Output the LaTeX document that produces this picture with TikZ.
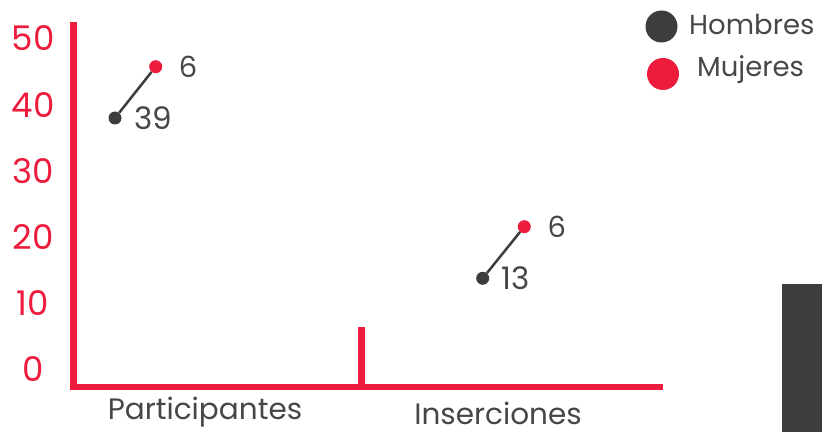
\documentclass[tikz,border=0pt]{standalone}
\usepackage{fontspec}
\setmainfont{Poppins}
\usetikzlibrary{positioning}
\definecolor{rojo}{HTML}{ED1B3C}
\definecolor{gris}{HTML}{3D3D3D}
\definecolor{texto}{HTML}{474747}

\begin{document}
\begin{tikzpicture}[x=1pt,y=1pt,
    eje/.style={draw=rojo,line width=6.5pt},
    valor/.style={text=rojo,font=\fontsize{34}{34}\selectfont},
    dato/.style={text=texto,font=\fontsize{31}{31}\selectfont},
    datomujer/.style={text=texto,font=\fontsize{29}{29}\selectfont},
    categoria/.style={text=texto,inner sep=1pt,font=\fontsize{29.5}{30}\selectfont},
    leyenda/.style={text=texto,inner sep=1pt,anchor=west,font=\fontsize{27.5}{28}\selectfont},
    punto/.style={circle,inner sep=0pt,minimum size=13pt},
    hombre/.style={punto,fill=gris},
    mujer/.style={punto,fill=rojo},
    linea/.style={draw=gris,line width=2.5pt}]
  \useasboundingbox (0,0) rectangle (822,432);

  % ejes
  \coordinate (arriba) at (73.5,410);
  \coordinate (origen) at (73.5,45);
  \coordinate (fin) at (663,45);
  \coordinate (medio) at (361.7,45);
  \coordinate (mediotope) at (361.7,105.3);
  \draw[eje] (arriba) -- (origen) -- (fin);
  \draw[eje] (medio) -- (mediotope);

  % escala
  \foreach \v in {0,10,...,50}
    \node[valor] (y\v) at (33,63+6.61*\v) {\v};

  % categorias
  \node[categoria] (participantes) at (205,20) {Participantes};
  \node[categoria] (inserciones) at (498,19) {Inserciones};

  % Participantes
  \node[hombre] (hP) at (115,314) {};
  \node[mujer] (mP) at (155.7,365.3) {};
  \draw[linea] (hP) -- (mP);
  \node[dato,right=9pt of hP] (hPdato) {39};
  \node[datomujer,right=13pt of mP] (mPdato) {6};

  % Inserciones
  \node[hombre] (hI) at (482.7,153.7) {};
  \node[mujer] (mI) at (524.3,205.3) {};
  \draw[linea] (hI) -- (mI);
  \node[dato,right=9pt of hI] (hIdato) {13};
  \node[datomujer,right=13pt of mI] (mIdato) {6};

  % leyenda
  \node[circle,fill=gris,inner sep=0pt,minimum size=32pt] (lh) at (661.5,405.5) {};
  \node[circle,fill=rojo,inner sep=0pt,minimum size=32pt] (lm) at (663,358) {};
  \node[leyenda] (lhtexto) at (688,408) {Hombres};
  \node[leyenda] (lmtexto) at (696,362) {Mujeres};

  \fill[gris] (782,0) rectangle (822,148);
\end{tikzpicture}
\end{document}
